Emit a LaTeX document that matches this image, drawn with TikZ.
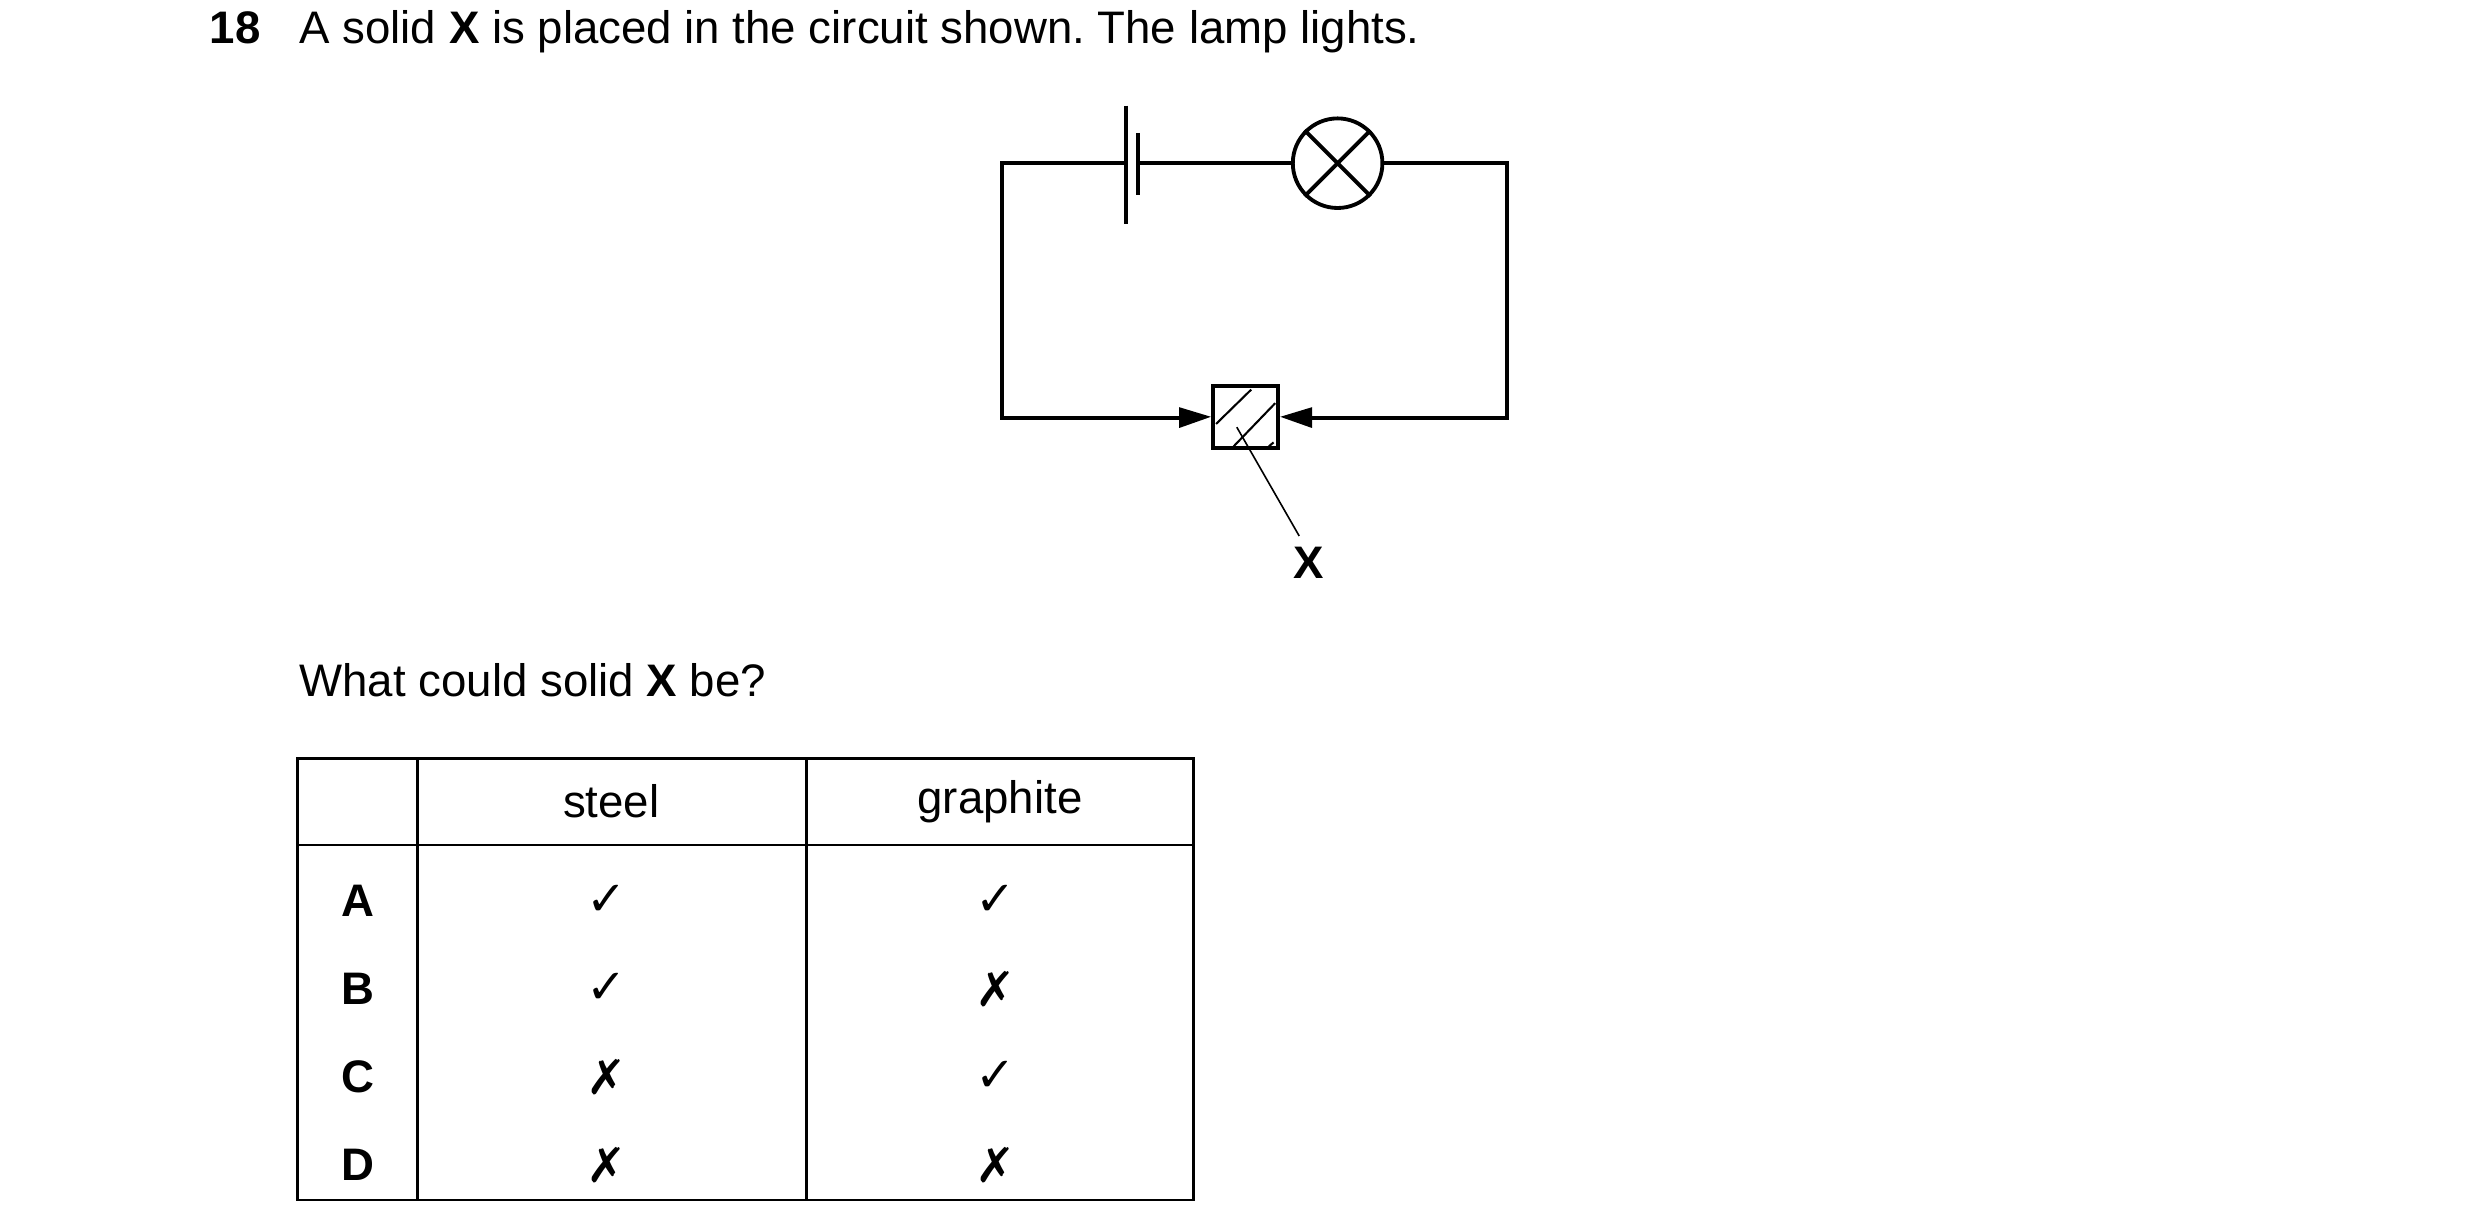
\documentclass[tikz,border=0pt]{standalone}
\usepackage{fontspec}
\setmainfont{Liberation Sans}
\newfontfamily\sym{DejaVu Sans}
\frenchspacing
\begin{document}
\begin{tikzpicture}[x=1pt,y=-1pt,
  wire/.style={line width=2.4pt,line join=miter},
  txt/.style={font=\fontsize{28.5}{32}\selectfont,inner sep=0pt},
  cell/.style={font=\fontsize{28.5}{32}\selectfont,inner sep=0pt,anchor=center},
  mk/.style={font=\sym\bfseries\fontsize{30}{32}\selectfont,inner sep=0pt,anchor=center},
  tab/.style={line width=1.6pt}]
\useasboundingbox (0,0) rectangle (1550,767);
% text
\node[txt,anchor=base west] (num) at (131,27) {\textbf{18}};
\node[txt,anchor=base west] (title) at (187,27) {A solid \textbf{X} is placed in the circuit shown. The lamp lights.};
\node[txt,anchor=base west] (q) at (187,435) {What could solid \textbf{X} be?};
% circuit
\coordinate (tl) at (626,102); \coordinate (tr) at (942,102);
\coordinate (bl) at (626,261); \coordinate (br) at (942,261);
\coordinate (bp) at (704,102); \coordinate (bn) at (711,102);
\node[circle,draw,line width=2.4pt,minimum size=56pt,inner sep=0pt] (lamp) at (836,102) {};
\draw[line width=2.4pt] (lamp.north west) -- (lamp.south east) (lamp.north east) -- (lamp.south west);
\node[draw,line width=2.4pt,minimum width=41pt,minimum height=39pt,inner sep=0pt] (box) at (778.5,260.5) {};
\draw[wire] (bp) -- (tl) -- (bl) -- (737,261);
\draw[wire] (bn) -- (lamp.west);
\draw[wire] (lamp.east) -- (tr) -- (br) -- (820,261);
\draw[line width=2.4pt] (704,66) -- (704,140);
\draw[line width=2.4pt] (711,83) -- (711,122);
\fill (box.west) -- (737,254.5) -- (737,267.5) -- cycle;
\fill (box.east) -- (820,254.5) -- (820,267.5) -- cycle;
\draw[line width=1.3pt] (760,265) -- (782,243.5) (771,279) -- (797,252) (793,279) -- (796,276.5);
\node[txt,anchor=center] (X) at (818,352) {\textbf{X}};
\coordinate (lp) at (773,267);
\draw[line width=1pt] (lp) -- (812,335);
% table
\draw[tab] (186,474) rectangle (746,750);
\draw[tab] (261,474) -- (261,750) (504,474) -- (504,750) (186,528) -- (746,528);
\node[cell] (h1) at (382,501) {steel};
\node[cell] (h2) at (625,501) {graphite};
\foreach \r/\y/\a/\b in {A/563/✓/✓,B/618/✓/✗,C/673/✗/✓,D/728/✗/✗}{
  \node[cell] at (224,\y) {\textbf{\r}};
  \node[mk] at (379,\y) {\a};
  \node[mk] at (622,\y) {\b};
}
\end{tikzpicture}
\end{document}
